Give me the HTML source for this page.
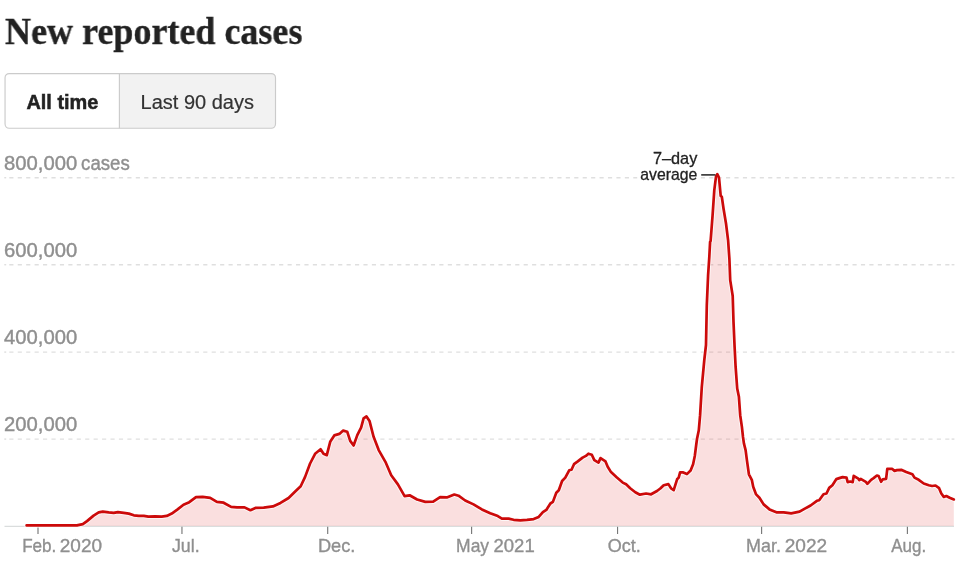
<!DOCTYPE html>
<html lang="en">
<head>
<meta charset="utf-8">
<title>New reported cases</title>
<style>
html,body{margin:0;padding:0;background:#fff;}
body{width:960px;height:562px;position:relative;overflow:hidden;font-family:"Liberation Sans",sans-serif;}
h2{will-change:transform;position:absolute;left:5px;top:12.3px;margin:0;font-family:"Liberation Serif",serif;font-weight:700;font-size:38px;line-height:38px;color:#222;-webkit-text-stroke:0.35px #222;white-space:nowrap;transform-origin:0 0;transform:scaleX(0.948);}
svg{position:absolute;left:0;top:0;}
.tb{font-family:"Liberation Sans",sans-serif;font-size:20px;fill:#333;stroke:#333;stroke-width:0.2px;}
.tb.on{font-weight:700;fill:#222;stroke:#222;stroke-width:0.5px;}
.ax{font-family:"Liberation Sans",sans-serif;font-size:18.5px;fill:#8f8f8f;stroke:#8f8f8f;stroke-width:0.35px;}
.ay{font-family:"Liberation Sans",sans-serif;font-size:19.4px;fill:#8f8f8f;stroke:#8f8f8f;stroke-width:0.4px;}
.ann{font-family:"Liberation Sans",sans-serif;font-size:15.7px;fill:#222;text-anchor:end;}
.fg{stroke:#222;stroke-width:0.3px;}
</style>
</head>
<body>
<h2 id="title">New reported cases</h2>
<svg width="960" height="562" viewBox="0 0 960 562">
<g id="tabs">
<rect x="5.05" y="73.55" width="270.45" height="54.7" rx="4.2" ry="4.2" fill="#ffffff"/>
<path d="M119.4,73.55 H271.3 A4.2,4.2 0 0 1 275.5,77.75 V124.05 A4.2,4.2 0 0 1 271.3,128.25 H119.4 Z" fill="#f2f2f2"/>
<rect x="5.05" y="73.55" width="270.45" height="54.7" rx="4.2" ry="4.2" fill="none" stroke="#cbcbcb" stroke-width="1.15"/>
<line x1="119.4" x2="119.4" y1="73.55" y2="128.25" stroke="#cbcbcb" stroke-width="1.15"/>
<text id="t1" x="26.4" y="109.2" textLength="72" lengthAdjust="spacingAndGlyphs" class="tb on">All time</text>
<text id="t2" x="140.6" y="109.2" textLength="113.4" lengthAdjust="spacingAndGlyphs" class="tb">Last 90 days</text>
</g>
<g id="grid">
<line x1="9.3" x2="950" y1="177.7" y2="177.7" stroke="#dfdfdf" stroke-width="1.45" stroke-dasharray="4.15 4.282"/>
<line x1="4.3" x2="6.2" y1="177.7" y2="177.7" stroke="#dfdfdf" stroke-width="1.45"/>
<line x1="951.6" x2="954.4" y1="177.7" y2="177.7" stroke="#dfdfdf" stroke-width="1.45"/>
<line x1="9.3" x2="950" y1="264.7" y2="264.7" stroke="#dfdfdf" stroke-width="1.45" stroke-dasharray="4.15 4.282"/>
<line x1="4.3" x2="6.2" y1="264.7" y2="264.7" stroke="#dfdfdf" stroke-width="1.45"/>
<line x1="951.6" x2="954.4" y1="264.7" y2="264.7" stroke="#dfdfdf" stroke-width="1.45"/>
<line x1="9.3" x2="950" y1="352.1" y2="352.1" stroke="#dfdfdf" stroke-width="1.45" stroke-dasharray="4.15 4.282"/>
<line x1="4.3" x2="6.2" y1="352.1" y2="352.1" stroke="#dfdfdf" stroke-width="1.45"/>
<line x1="951.6" x2="954.4" y1="352.1" y2="352.1" stroke="#dfdfdf" stroke-width="1.45"/>
<line x1="9.3" x2="950" y1="439.1" y2="439.1" stroke="#dfdfdf" stroke-width="1.45" stroke-dasharray="4.15 4.282"/>
<line x1="4.3" x2="6.2" y1="439.1" y2="439.1" stroke="#dfdfdf" stroke-width="1.45"/>
<line x1="951.6" x2="954.4" y1="439.1" y2="439.1" stroke="#dfdfdf" stroke-width="1.45"/>
</g>
<line x1="4.5" x2="954" y1="526.3" y2="526.3" stroke="#dadddd" stroke-width="1.3"/>
<g id="ticks">
<line x1="38" x2="38" y1="526.8" y2="534" stroke="#787878" stroke-width="1.15"/>
<line x1="181.95" x2="181.95" y1="526.8" y2="534" stroke="#787878" stroke-width="1.15"/>
<line x1="327.7" x2="327.7" y1="526.8" y2="534" stroke="#787878" stroke-width="1.15"/>
<line x1="471.6" x2="471.6" y1="526.8" y2="534" stroke="#787878" stroke-width="1.15"/>
<line x1="617.55" x2="617.55" y1="526.8" y2="534" stroke="#787878" stroke-width="1.15"/>
<line x1="761.6" x2="761.6" y1="526.8" y2="534" stroke="#787878" stroke-width="1.15"/>
<line x1="907.4" x2="907.4" y1="526.8" y2="534" stroke="#787878" stroke-width="1.15"/>
</g>
<g id="ylabels">
<text x="4.10" y="169.9" textLength="73.10" lengthAdjust="spacingAndGlyphs" class="ay">800,000</text>
<text x="81.10" y="169.9" textLength="48.70" lengthAdjust="spacingAndGlyphs" class="ay">cases</text>
<text x="4.10" y="256.9" textLength="73.10" lengthAdjust="spacingAndGlyphs" class="ay">600,000</text>
<text x="4.10" y="344.4" textLength="73.10" lengthAdjust="spacingAndGlyphs" class="ay">400,000</text>
<text x="4.10" y="431.4" textLength="73.10" lengthAdjust="spacingAndGlyphs" class="ay">200,000</text>
</g>
<g id="xlabels">
<text x="22.15" y="552" textLength="34.20" lengthAdjust="spacingAndGlyphs" class="ax">Feb.</text>
<text x="59.80" y="552" textLength="42.30" lengthAdjust="spacingAndGlyphs" class="ax">2020</text>
<text x="171.90" y="552" textLength="27.70" lengthAdjust="spacingAndGlyphs" class="ax">Jul.</text>
<text x="317.90" y="552" textLength="37.45" lengthAdjust="spacingAndGlyphs" class="ax">Dec.</text>
<text x="456.10" y="552" textLength="33.00" lengthAdjust="spacingAndGlyphs" class="ax">May</text>
<text x="493.50" y="552" textLength="41.20" lengthAdjust="spacingAndGlyphs" class="ax">2021</text>
<text x="607.75" y="552" textLength="33.10" lengthAdjust="spacingAndGlyphs" class="ax">Oct.</text>
<text x="746.10" y="552" textLength="34.90" lengthAdjust="spacingAndGlyphs" class="ax">Mar.</text>
<text x="784.70" y="552" textLength="42.50" lengthAdjust="spacingAndGlyphs" class="ax">2022</text>
<text x="891.25" y="552" textLength="34.85" lengthAdjust="spacingAndGlyphs" class="ax">Aug.</text>
</g>
<path d="M26.6,525.4 L76.9,525.4 L82.8,524.1 L87.0,521.1 L93.6,515.6 L98.7,512.4 L102.8,511.6 L108.7,512.4 L113.7,512.9 L117.9,512.1 L123.7,512.9 L128.8,513.6 L133.8,515.3 L138.8,515.8 L143.8,515.8 L148.4,516.6 L155.0,516.3 L161.7,516.6 L166.8,515.9 L171.8,513.6 L177.6,509.4 L183.5,504.7 L189.3,502.2 L196.0,497.2 L202.7,496.9 L210.2,497.9 L216.9,501.9 L223.6,502.7 L231.1,506.9 L237.0,507.4 L244.5,507.4 L250.4,510.2 L255.4,507.9 L263.7,507.6 L272.9,506.4 L280.5,502.9 L288.6,498.0 L295.2,491.5 L300.7,486.3 L305.1,476.9 L310.1,463.5 L315.1,453.8 L320.6,449.3 L323.5,453.8 L326.8,455.2 L330.2,441.8 L334.3,435.4 L339.4,433.9 L343.2,430.6 L347.2,431.7 L350.2,440.9 L353.6,445.5 L357.3,435.1 L361.1,427.6 L363.6,418.4 L366.5,416.4 L369.5,420.9 L373.6,436.8 L378.7,450.1 L385.4,461.8 L391.2,475.2 L397.9,484.4 L404.6,496.1 L409.6,495.3 L417.1,499.5 L425.3,501.9 L433.2,501.7 L440.1,497.2 L446.8,497.4 L454.3,494.5 L458.5,495.7 L465.2,500.5 L473.5,504.4 L481.9,509.4 L490.2,513.2 L497.8,516.1 L501.9,518.6 L508.6,518.6 L513.6,519.8 L520.3,520.3 L527.0,519.8 L533.7,519.1 L538.7,516.9 L542.9,512.2 L546.3,509.9 L550.4,503.5 L552.9,501.9 L556.3,492.7 L558.8,490.2 L562.1,481.0 L565.3,477.6 L569.2,470.3 L571.5,469.8 L574.0,464.2 L577.8,461.4 L582.6,457.6 L585.9,455.9 L588.4,453.7 L591.8,454.7 L594.3,460.1 L598.5,462.6 L600.5,458.1 L605.5,461.4 L607.7,466.8 L611.0,472.1 L616.9,477.6 L622.7,482.6 L626.1,484.3 L630.2,488.2 L635.3,492.2 L639.9,494.7 L646.1,493.5 L651.1,494.3 L657.0,491.0 L660.3,488.5 L663.7,485.2 L668.4,484.1 L671.2,488.5 L673.7,490.2 L677.1,479.3 L678.7,477.6 L680.1,472.4 L682.7,472.3 L686.9,474.1 L690.6,470.5 L693.1,464.3 L694.8,456.0 L696.2,445.0 L697.0,439.0 L698.8,430.3 L700.1,415.2 L701.8,386.8 L704.3,360.0 L706.0,345.0 L706.8,305.2 L708.1,275.1 L709.3,257.0 L710.1,241.9 L710.6,241.0 L712.6,215.2 L714.3,190.1 L716.0,176.7 L717.3,174.2 L719.0,177.5 L720.7,195.9 L721.8,196.8 L723.5,208.5 L726.0,223.5 L728.1,240.3 L729.4,259.0 L730.2,280.1 L732.7,296.0 L733.5,321.9 L734.6,347.0 L735.6,366.7 L737.2,388.5 L738.9,396.8 L740.2,415.2 L741.9,426.9 L743.0,437.0 L743.9,443.4 L745.6,450.1 L746.9,460.1 L748.9,474.3 L751.9,480.2 L753.2,486.8 L756.1,494.4 L759.4,497.7 L763.6,504.4 L769.5,509.4 L777.0,512.4 L783.7,512.3 L791.2,513.3 L799.6,511.7 L804.4,508.9 L810.6,505.5 L816.9,500.8 L819.2,500.2 L823.5,494.3 L826.5,493.5 L829.2,487.9 L832.4,485.2 L836.4,479.1 L839.3,478.1 L842.6,477.1 L846.5,477.6 L847.7,482.1 L850.2,481.5 L852.7,482.1 L853.7,475.9 L858.3,478.6 L859.2,480.2 L860.7,478.9 L865.8,481.9 L867.4,483.8 L871.1,479.8 L873.6,478.1 L876.9,475.5 L878.6,476.0 L881.1,481.8 L882.8,479.3 L886.1,478.8 L887.3,468.8 L892.0,468.8 L894.5,470.9 L897.0,470.1 L901.2,469.8 L906.2,472.1 L912.4,474.3 L914.5,477.6 L918.7,479.8 L923.7,483.5 L928.8,485.2 L932.1,486.0 L935.5,485.5 L939.1,488.2 L941.3,493.5 L943.8,496.9 L946.3,496.0 L949.7,497.7 L953.8,499.4 L953.8,526 L26.6,526 Z" fill="rgba(222,40,40,0.15)" stroke="none"/>
<path d="M26.6,525.4 L76.9,525.4 L82.8,524.1 L87.0,521.1 L93.6,515.6 L98.7,512.4 L102.8,511.6 L108.7,512.4 L113.7,512.9 L117.9,512.1 L123.7,512.9 L128.8,513.6 L133.8,515.3 L138.8,515.8 L143.8,515.8 L148.4,516.6 L155.0,516.3 L161.7,516.6 L166.8,515.9 L171.8,513.6 L177.6,509.4 L183.5,504.7 L189.3,502.2 L196.0,497.2 L202.7,496.9 L210.2,497.9 L216.9,501.9 L223.6,502.7 L231.1,506.9 L237.0,507.4 L244.5,507.4 L250.4,510.2 L255.4,507.9 L263.7,507.6 L272.9,506.4 L280.5,502.9 L288.6,498.0 L295.2,491.5 L300.7,486.3 L305.1,476.9 L310.1,463.5 L315.1,453.8 L320.6,449.3 L323.5,453.8 L326.8,455.2 L330.2,441.8 L334.3,435.4 L339.4,433.9 L343.2,430.6 L347.2,431.7 L350.2,440.9 L353.6,445.5 L357.3,435.1 L361.1,427.6 L363.6,418.4 L366.5,416.4 L369.5,420.9 L373.6,436.8 L378.7,450.1 L385.4,461.8 L391.2,475.2 L397.9,484.4 L404.6,496.1 L409.6,495.3 L417.1,499.5 L425.3,501.9 L433.2,501.7 L440.1,497.2 L446.8,497.4 L454.3,494.5 L458.5,495.7 L465.2,500.5 L473.5,504.4 L481.9,509.4 L490.2,513.2 L497.8,516.1 L501.9,518.6 L508.6,518.6 L513.6,519.8 L520.3,520.3 L527.0,519.8 L533.7,519.1 L538.7,516.9 L542.9,512.2 L546.3,509.9 L550.4,503.5 L552.9,501.9 L556.3,492.7 L558.8,490.2 L562.1,481.0 L565.3,477.6 L569.2,470.3 L571.5,469.8 L574.0,464.2 L577.8,461.4 L582.6,457.6 L585.9,455.9 L588.4,453.7 L591.8,454.7 L594.3,460.1 L598.5,462.6 L600.5,458.1 L605.5,461.4 L607.7,466.8 L611.0,472.1 L616.9,477.6 L622.7,482.6 L626.1,484.3 L630.2,488.2 L635.3,492.2 L639.9,494.7 L646.1,493.5 L651.1,494.3 L657.0,491.0 L660.3,488.5 L663.7,485.2 L668.4,484.1 L671.2,488.5 L673.7,490.2 L677.1,479.3 L678.7,477.6 L680.1,472.4 L682.7,472.3 L686.9,474.1 L690.6,470.5 L693.1,464.3 L694.8,456.0 L696.2,445.0 L697.0,439.0 L698.8,430.3 L700.1,415.2 L701.8,386.8 L704.3,360.0 L706.0,345.0 L706.8,305.2 L708.1,275.1 L709.3,257.0 L710.1,241.9 L710.6,241.0 L712.6,215.2 L714.3,190.1 L716.0,176.7 L717.3,174.2 L719.0,177.5 L720.7,195.9 L721.8,196.8 L723.5,208.5 L726.0,223.5 L728.1,240.3 L729.4,259.0 L730.2,280.1 L732.7,296.0 L733.5,321.9 L734.6,347.0 L735.6,366.7 L737.2,388.5 L738.9,396.8 L740.2,415.2 L741.9,426.9 L743.0,437.0 L743.9,443.4 L745.6,450.1 L746.9,460.1 L748.9,474.3 L751.9,480.2 L753.2,486.8 L756.1,494.4 L759.4,497.7 L763.6,504.4 L769.5,509.4 L777.0,512.4 L783.7,512.3 L791.2,513.3 L799.6,511.7 L804.4,508.9 L810.6,505.5 L816.9,500.8 L819.2,500.2 L823.5,494.3 L826.5,493.5 L829.2,487.9 L832.4,485.2 L836.4,479.1 L839.3,478.1 L842.6,477.1 L846.5,477.6 L847.7,482.1 L850.2,481.5 L852.7,482.1 L853.7,475.9 L858.3,478.6 L859.2,480.2 L860.7,478.9 L865.8,481.9 L867.4,483.8 L871.1,479.8 L873.6,478.1 L876.9,475.5 L878.6,476.0 L881.1,481.8 L882.8,479.3 L886.1,478.8 L887.3,468.8 L892.0,468.8 L894.5,470.9 L897.0,470.1 L901.2,469.8 L906.2,472.1 L912.4,474.3 L914.5,477.6 L918.7,479.8 L923.7,483.5 L928.8,485.2 L932.1,486.0 L935.5,485.5 L939.1,488.2 L941.3,493.5 L943.8,496.9 L946.3,496.0 L949.7,497.7 L953.8,499.4" fill="none" stroke="#ffffff" stroke-opacity="0.75" stroke-width="4.6" stroke-linejoin="round" stroke-linecap="round"/>
<path d="M26.6,525.4 L76.9,525.4 L82.8,524.1 L87.0,521.1 L93.6,515.6 L98.7,512.4 L102.8,511.6 L108.7,512.4 L113.7,512.9 L117.9,512.1 L123.7,512.9 L128.8,513.6 L133.8,515.3 L138.8,515.8 L143.8,515.8 L148.4,516.6 L155.0,516.3 L161.7,516.6 L166.8,515.9 L171.8,513.6 L177.6,509.4 L183.5,504.7 L189.3,502.2 L196.0,497.2 L202.7,496.9 L210.2,497.9 L216.9,501.9 L223.6,502.7 L231.1,506.9 L237.0,507.4 L244.5,507.4 L250.4,510.2 L255.4,507.9 L263.7,507.6 L272.9,506.4 L280.5,502.9 L288.6,498.0 L295.2,491.5 L300.7,486.3 L305.1,476.9 L310.1,463.5 L315.1,453.8 L320.6,449.3 L323.5,453.8 L326.8,455.2 L330.2,441.8 L334.3,435.4 L339.4,433.9 L343.2,430.6 L347.2,431.7 L350.2,440.9 L353.6,445.5 L357.3,435.1 L361.1,427.6 L363.6,418.4 L366.5,416.4 L369.5,420.9 L373.6,436.8 L378.7,450.1 L385.4,461.8 L391.2,475.2 L397.9,484.4 L404.6,496.1 L409.6,495.3 L417.1,499.5 L425.3,501.9 L433.2,501.7 L440.1,497.2 L446.8,497.4 L454.3,494.5 L458.5,495.7 L465.2,500.5 L473.5,504.4 L481.9,509.4 L490.2,513.2 L497.8,516.1 L501.9,518.6 L508.6,518.6 L513.6,519.8 L520.3,520.3 L527.0,519.8 L533.7,519.1 L538.7,516.9 L542.9,512.2 L546.3,509.9 L550.4,503.5 L552.9,501.9 L556.3,492.7 L558.8,490.2 L562.1,481.0 L565.3,477.6 L569.2,470.3 L571.5,469.8 L574.0,464.2 L577.8,461.4 L582.6,457.6 L585.9,455.9 L588.4,453.7 L591.8,454.7 L594.3,460.1 L598.5,462.6 L600.5,458.1 L605.5,461.4 L607.7,466.8 L611.0,472.1 L616.9,477.6 L622.7,482.6 L626.1,484.3 L630.2,488.2 L635.3,492.2 L639.9,494.7 L646.1,493.5 L651.1,494.3 L657.0,491.0 L660.3,488.5 L663.7,485.2 L668.4,484.1 L671.2,488.5 L673.7,490.2 L677.1,479.3 L678.7,477.6 L680.1,472.4 L682.7,472.3 L686.9,474.1 L690.6,470.5 L693.1,464.3 L694.8,456.0 L696.2,445.0 L697.0,439.0 L698.8,430.3 L700.1,415.2 L701.8,386.8 L704.3,360.0 L706.0,345.0 L706.8,305.2 L708.1,275.1 L709.3,257.0 L710.1,241.9 L710.6,241.0 L712.6,215.2 L714.3,190.1 L716.0,176.7 L717.3,174.2 L719.0,177.5 L720.7,195.9 L721.8,196.8 L723.5,208.5 L726.0,223.5 L728.1,240.3 L729.4,259.0 L730.2,280.1 L732.7,296.0 L733.5,321.9 L734.6,347.0 L735.6,366.7 L737.2,388.5 L738.9,396.8 L740.2,415.2 L741.9,426.9 L743.0,437.0 L743.9,443.4 L745.6,450.1 L746.9,460.1 L748.9,474.3 L751.9,480.2 L753.2,486.8 L756.1,494.4 L759.4,497.7 L763.6,504.4 L769.5,509.4 L777.0,512.4 L783.7,512.3 L791.2,513.3 L799.6,511.7 L804.4,508.9 L810.6,505.5 L816.9,500.8 L819.2,500.2 L823.5,494.3 L826.5,493.5 L829.2,487.9 L832.4,485.2 L836.4,479.1 L839.3,478.1 L842.6,477.1 L846.5,477.6 L847.7,482.1 L850.2,481.5 L852.7,482.1 L853.7,475.9 L858.3,478.6 L859.2,480.2 L860.7,478.9 L865.8,481.9 L867.4,483.8 L871.1,479.8 L873.6,478.1 L876.9,475.5 L878.6,476.0 L881.1,481.8 L882.8,479.3 L886.1,478.8 L887.3,468.8 L892.0,468.8 L894.5,470.9 L897.0,470.1 L901.2,469.8 L906.2,472.1 L912.4,474.3 L914.5,477.6 L918.7,479.8 L923.7,483.5 L928.8,485.2 L932.1,486.0 L935.5,485.5 L939.1,488.2 L941.3,493.5 L943.8,496.9 L946.3,496.0 L949.7,497.7 L953.8,499.4" fill="none" stroke="#cc0a0a" stroke-width="2.7" stroke-linejoin="round" stroke-linecap="round"/>
<line x1="701.2" x2="715.5" y1="174.9" y2="174.9" stroke="#222" stroke-width="1.5"/>
<rect x="637.5" y="175.5" width="63" height="4.5" fill="#fff"/>
<text x="697.3" y="163.8" textLength="44.3" lengthAdjust="spacingAndGlyphs" class="ann fg">7–day</text>
<text x="697.3" y="180.2" textLength="57" lengthAdjust="spacingAndGlyphs" class="ann fg">average</text>
</svg>
</body>
</html>
